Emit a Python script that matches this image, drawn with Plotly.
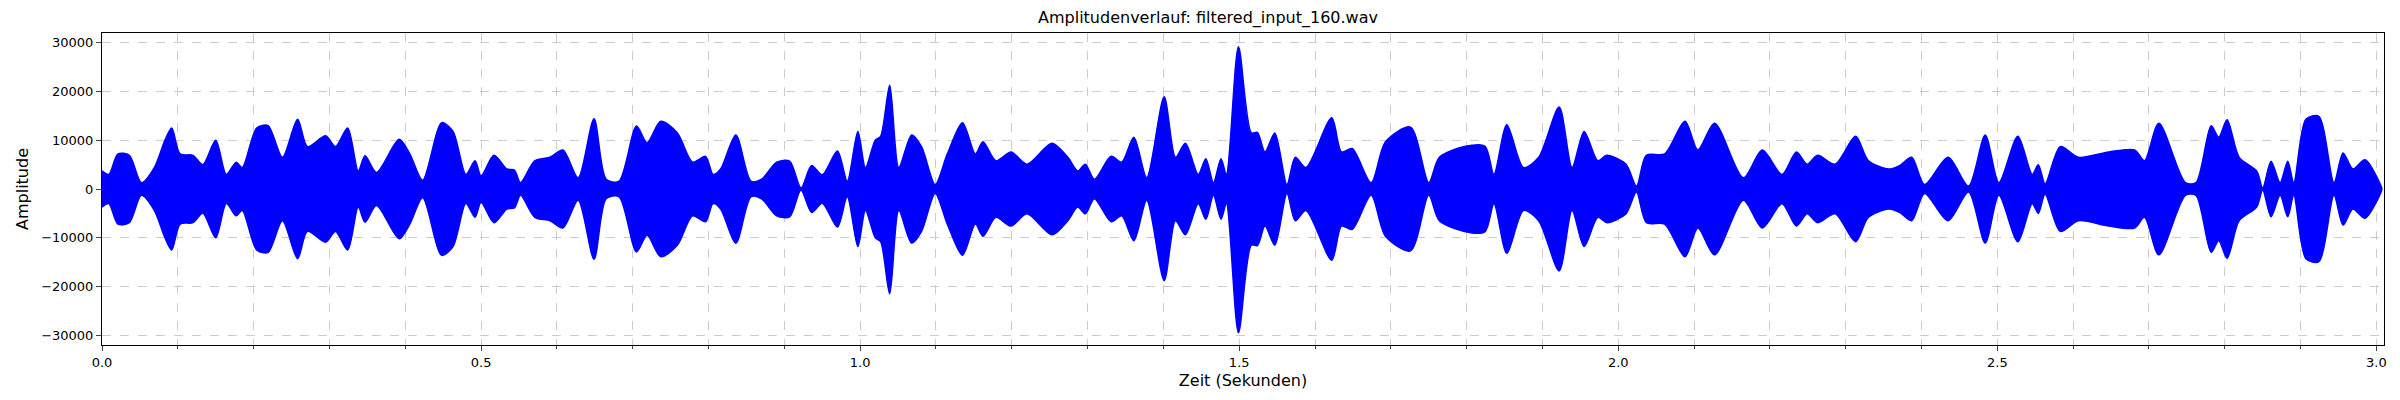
import plotly.graph_objects as go

# envelope of the waveform (time in s, amplitude)
t = [0, 0.009, 0.021, 0.036, 0.052, 0.069, 0.083, 0.092, 0.103, 0.12, 0.133, 0.15, 0.164, 0.177, 0.185,
     0.204, 0.219, 0.238, 0.258, 0.271, 0.295, 0.308, 0.324, 0.338, 0.347, 0.362, 0.392, 0.406, 0.423,
     0.448, 0.463, 0.48, 0.492, 0.5, 0.517, 0.534, 0.544, 0.552, 0.571, 0.591, 0.608, 0.628, 0.649,
     0.665, 0.682, 0.705, 0.719, 0.737, 0.759, 0.779, 0.796, 0.806, 0.816, 0.836, 0.856, 0.87, 0.89,
     0.907, 0.922, 0.936, 0.95, 0.97, 0.983, 0.997, 1.007, 1.02, 1.027, 1.039, 1.051, 1.068, 1.081,
     1.099, 1.115, 1.135, 1.152, 1.162, 1.179, 1.199, 1.22, 1.253, 1.274, 1.287, 1.297, 1.309, 1.331,
     1.345, 1.361, 1.378, 1.401, 1.416, 1.429, 1.446, 1.456, 1.466, 1.476, 1.483, 1.499, 1.516, 1.524,
     1.534, 1.547, 1.563, 1.574, 1.588, 1.622, 1.635, 1.649, 1.674, 1.693, 1.726, 1.75, 1.764, 1.797,
     1.824, 1.836, 1.853, 1.875, 1.895, 1.922, 1.939, 1.955, 1.973, 1.985, 2.01, 2.024, 2.037, 2.061,
     2.088, 2.105, 2.127, 2.165, 2.19, 2.216, 2.235, 2.249, 2.263, 2.286, 2.313, 2.33, 2.357, 2.371,
     2.387, 2.404, 2.435, 2.462, 2.484, 2.502, 2.527, 2.546, 2.554, 2.563, 2.583, 2.607, 2.647, 2.681,
     2.694, 2.713, 2.748, 2.762, 2.782, 2.792, 2.803, 2.819, 2.842, 2.85, 2.861, 2.873, 2.883, 2.891,
     2.907, 2.924, 2.944, 2.956, 2.969, 2.985, 3.007]
upper = [3700, 3000, 7200, 6900, 1300, 4400, 10000, 12500, 7200, 6900, 5000, 10000, 3000, 5500, 4400,
         12500, 13000, 6500, 14300, 8700, 10900, 8700, 12500, 3700, 6800, 3400, 10200, 7200, 1800,
         13600, 11800, 3000, 5800, 2700, 6900, 4100, 3900, 1300, 5800, 6500, 8000, 2300, 14400,
         2000, 1600, 12900, 9500, 13900, 11500, 5500, 6700, 3000, 4100, 11100, 1600, 2000, 5500,
         5700, 200, 4800, 2900, 7800, 1600, 11800, 4400, 10000, 10800, 21300, 4400, 11100, 8700,
         900, 7200, 13600, 7200, 9700, 5800, 7600, 5100, 9400, 6500, 3700, 5100, 2000, 6700,
         5500, 10600, 2300, 18900, 6500, 9400, 3000, 6200, 1300, 6200, 3000, 29200, 11500, 11600,
         7600, 11500, 900, 6500, 4400, 14600, 7600, 8300, 1300, 9700, 12700, 1300, 6500, 8700,
         8800, 3000, 13200, 4400, 6500, 16800, 4400, 11800, 5800, 6900, 5100, 600, 6900, 7200,
         13900, 8000, 13500, 2300, 8000, 3000, 7600, 5100, 6900, 5100, 10800, 5800, 4100, 4800,
         6500, 900, 6500, 600, 11100, 1300, 10800, 3000, 5000, 1100, 8700, 6500, 7600, 8000,
         5800, 13500, 1300, 1300, 13000, 10600, 14200, 6500, 3700, 200, 5700, 1300, 5700, 1300,
         14300, 14900, 1300, 7400, 4100, 6000, 200]
lower = [-u for u in upper]
lower[t.index(1.039)] = -21500
lower[t.index(1.401)] = -18800
lower[t.index(1.499)] = -29500

fig = go.Figure()
fig.add_trace(go.Scatter(x=t + t[::-1], y=upper + lower[::-1], fill="toself",
                         fillcolor="#0000ff", line=dict(color="#0000ff", width=1.5, shape="spline", smoothing=0.8),
                         mode="lines", hoverinfo="skip", showlegend=False))

fig.update_layout(
    width=2400, height=400, plot_bgcolor="white", paper_bgcolor="white",
    margin=dict(l=94, r=24, t=25, b=63),
    font=dict(family="DejaVu Sans", size=13, color="black"),
    title=dict(text="Amplitudenverlauf: filtered_input_160.wav", x=0.5, xanchor="center",
               y=0.99, yanchor="top", font=dict(size=16)),
    xaxis=dict(range=[0, 3.01], tickmode="array", tickvals=[0, 0.5, 1.0, 1.5, 2.0, 2.5, 3.0],
               ticktext=["0.0", "0.5", "1.0", "1.5", "2.0", "2.5", "3.0"],
               ticks="outside", ticklen=5, showline=True, linecolor="black", mirror=True,
               showgrid=True, gridcolor="#cccccc", griddash="dash", zeroline=False,
               minor=dict(dtick=0.1, tick0=0, ticks="outside", ticklen=3, showgrid=True,
                          gridcolor="#cccccc", griddash="dash"),
               title=dict(text="Zeit (Sekunden)", standoff=6)),
    yaxis=dict(range=[-32000, 32000], tickvals=[-30000, -20000, -10000, 0, 10000, 20000, 30000],
               ticktext=["−30000", "−20000", "−10000", "0", "10000", "20000", "30000"],
               ticks="outside", ticklen=5, showline=True, linecolor="black", mirror=True,
               showgrid=True, gridcolor="#cccccc", griddash="dash", zeroline=False,
               title=dict(text="Amplitude", standoff=8)),
)
fig.write_html("out.html")
